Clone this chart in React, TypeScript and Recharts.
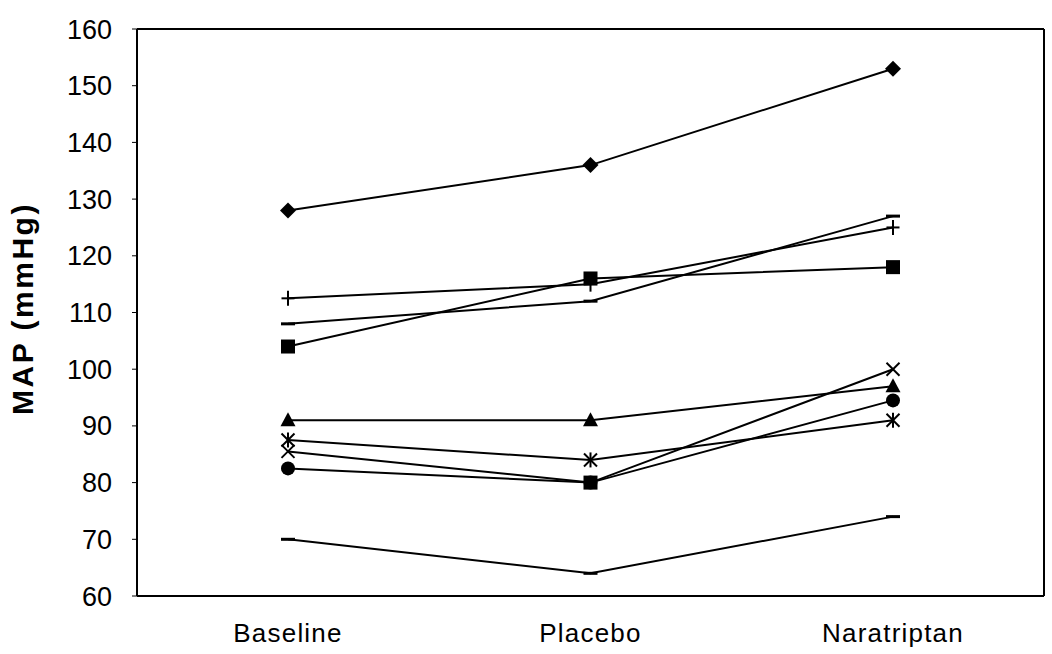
import React from 'react';
import { LineChart, Line, XAxis, YAxis } from 'recharts';

const categories = ['Baseline', 'Placebo', 'Naratriptan'];
const diamondSeries = [128, 136, 153];
const squareSeries = [104, 116, 118];
const triangleSeries = [91, 91, 97];
const xSeries = [85.5, 80, 100];
const starSeries = [87.5, 84, 91];
const circleSeries = [82.5, 80, 94.5];
const plusSeries = [112.5, 115, 125];
const dashSeries = [108, 112, 127];
const lowSeries = [70, 64, 74];
const yTicks = [60, 70, 80, 90, 100, 110, 120, 130, 140, 150, 160];

const data = categories.map((c, i) => ({
  cat: c,
  diamond: diamondSeries[i],
  square: squareSeries[i],
  triangle: triangleSeries[i],
  x: xSeries[i],
  star: starSeries[i],
  circle: circleSeries[i],
  plus: plusSeries[i],
  dash: dashSeries[i],
  low: lowSeries[i],
}));

type Shape = 'diamond' | 'square' | 'triangle' | 'x' | 'star' | 'circle' | 'plus' | 'dash';

const drawMarker = (shape: Shape, cx: number, cy: number, key: string) => {
  const s = 6.5;
  switch (shape) {
    case 'diamond':
      return <polygon key={key} points={`${cx},${cy - 8} ${cx + 8},${cy} ${cx},${cy + 8} ${cx - 8},${cy}`} fill="#000" />;
    case 'square':
      return <rect key={key} x={cx - 7} y={cy - 7} width={14} height={14} fill="#000" />;
    case 'triangle':
      return <polygon key={key} points={`${cx},${cy - 8} ${cx + 7.5},${cy + 6} ${cx - 7.5},${cy + 6}`} fill="#000" />;
    case 'circle':
      return <circle key={key} cx={cx} cy={cy} r={7} fill="#000" />;
    case 'x':
      return (
        <g key={key} stroke="#000" strokeWidth={2}>
          <line x1={cx - s} y1={cy - s} x2={cx + s} y2={cy + s} />
          <line x1={cx - s} y1={cy + s} x2={cx + s} y2={cy - s} />
        </g>
      );
    case 'star':
      return (
        <g key={key} stroke="#000" strokeWidth={2}>
          <line x1={cx - s} y1={cy - s} x2={cx + s} y2={cy + s} />
          <line x1={cx - s} y1={cy + s} x2={cx + s} y2={cy - s} />
          <line x1={cx} y1={cy - 7.5} x2={cx} y2={cy + 7.5} />
        </g>
      );
    case 'plus':
      return (
        <g key={key} stroke="#000" strokeWidth={2}>
          <line x1={cx - s} y1={cy} x2={cx + s} y2={cy} />
          <line x1={cx} y1={cy - 7.5} x2={cx} y2={cy + 7.5} />
        </g>
      );
    case 'dash':
      return <rect key={key} x={cx - 7} y={cy - 1.5} width={14} height={3} fill="#000" />;
  }
  return null;
};

const makeDot = (shape: Shape, overrides: Record<number, Shape> = {}) => (props: any) => {
  const { cx, cy, index } = props;
  const sh = overrides[index] || shape;
  return drawMarker(sh, cx, cy, `${shape}-${index}`);
};

const seriesDefs: { key: string; shape: Shape; overrides?: Record<number, Shape> }[] = [
  { key: 'low', shape: 'dash' },
  { key: 'dash', shape: 'dash' },
  { key: 'plus', shape: 'plus' },
  { key: 'star', shape: 'star' },
  { key: 'circle', shape: 'circle' },
  { key: 'x', shape: 'x', overrides: { 1: 'square' } },
  { key: 'triangle', shape: 'triangle' },
  { key: 'square', shape: 'square' },
  { key: 'diamond', shape: 'diamond' },
];

const font = '"Liberation Sans", Arial, sans-serif';

export default function App() {
  return (
    <div style={{ position: 'absolute', left: 0, top: 0, background: '#fff' }}>
      <LineChart
        width={1052}
        height={654}
        data={data}
        margin={{ top: 28, right: 7, bottom: 0, left: 0 }}
      >
        <XAxis
          dataKey="cat"
          scale="point"
          padding={{ left: 151, right: 151 }}
          height={58}
          axisLine={{ stroke: '#000', strokeWidth: 2 }}
          tickLine={false}
          tickSize={0}
          tickMargin={28}
          tick={{ fill: '#000', fontSize: 26, fontFamily: font, letterSpacing: 1.2 }}
          interval={0}
        />
        <XAxis
          xAxisId="top"
          dataKey="cat"
          orientation="top"
          scale="point"
          padding={{ left: 151, right: 151 }}
          height={1}
          axisLine={{ stroke: '#000', strokeWidth: 2 }}
          tickLine={false}
          tick={false}
        />
        <YAxis
          type="number"
          domain={[60, 160]}
          ticks={yTicks}
          interval={0}
          width={137}
          axisLine={{ stroke: '#000', strokeWidth: 2 }}
          tickLine={{ stroke: '#000', strokeWidth: 1 }}
          tickSize={5}
          tickMargin={20}
          tick={{ fill: '#000', fontSize: 27, fontFamily: font }}
          label={{
            value: 'MAP (mmHg)',
            angle: -90,
            position: 'center',
            dx: -46,
            dy: -4,
            style: { fill: '#000', fontSize: 30, fontWeight: 'bold', fontFamily: font, letterSpacing: 2.5 },
          }}
        />
        <YAxis
          yAxisId="right"
          orientation="right"
          type="number"
          domain={[60, 160]}
          width={1}
          axisLine={{ stroke: '#000', strokeWidth: 2 }}
          tickLine={false}
          tick={false}
        />
        {seriesDefs.map((s) => (
          <Line
            key={s.key}
            dataKey={s.key}
            type="linear"
            stroke="#000"
            strokeWidth={2}
            dot={makeDot(s.shape, s.overrides)}
            activeDot={false}
            isAnimationActive={false}
          />
        ))}
      </LineChart>
    </div>
  );
}
